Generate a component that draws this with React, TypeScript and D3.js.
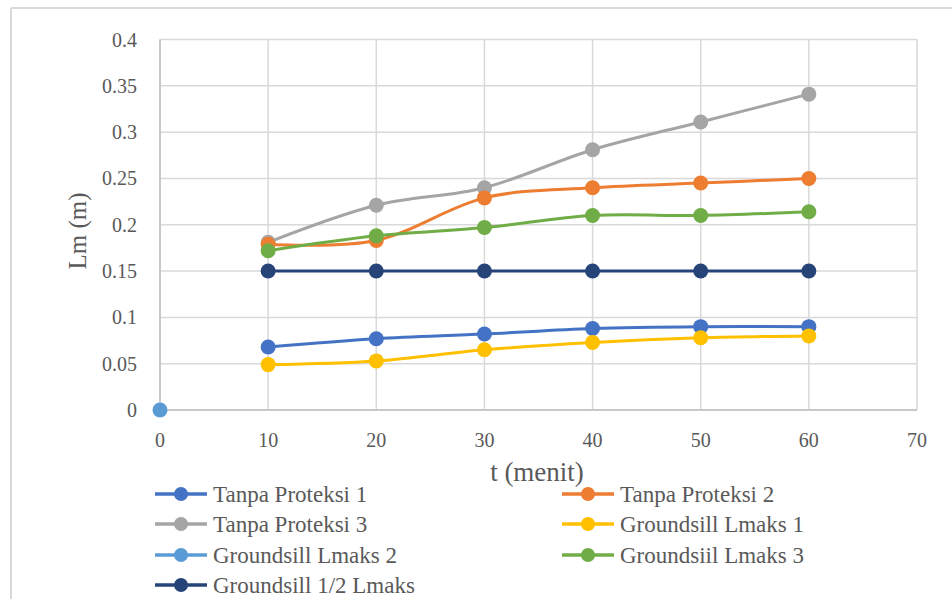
import React from "react";
import * as d3 from "d3";

const times = [10, 20, 30, 40, 50, 60];
const tanpa1 = [0.068, 0.077, 0.082, 0.088, 0.09, 0.09];
const tanpa2 = [0.179, 0.183, 0.229, 0.24, 0.245, 0.25];
const tanpa3 = [0.181, 0.221, 0.24, 0.281, 0.311, 0.341];
const gsL1 = [0.049, 0.053, 0.065, 0.073, 0.078, 0.08];
const gsL2x = [0];
const gsL2 = [0];
const gsL3 = [0.172, 0.188, 0.197, 0.21, 0.21, 0.214];
const gsHalf = [0.15, 0.15, 0.15, 0.15, 0.15, 0.15];

const xTicks = [0, 10, 20, 30, 40, 50, 60, 70];
const yTicks = [0, 0.05, 0.1, 0.15, 0.2, 0.25, 0.3, 0.35, 0.4];

const series = [
  { name: "Tanpa Proteksi 1", xs: times, ys: tanpa1, color: "#4472C4" },
  { name: "Tanpa Proteksi 2", xs: times, ys: tanpa2, color: "#ED7D31" },
  { name: "Tanpa Proteksi 3", xs: times, ys: tanpa3, color: "#A5A5A5" },
  { name: "Groundsill Lmaks 1", xs: times, ys: gsL1, color: "#FFC000" },
  { name: "Groundsill Lmaks 2", xs: gsL2x, ys: gsL2, color: "#5B9BD5" },
  { name: "Groundsiil Lmaks 3", xs: times, ys: gsL3, color: "#70AD47" },
  { name: "Groundsill 1/2 Lmaks", xs: times, ys: gsHalf, color: "#264478" },
];

const drawOrder = [6, 0, 3, 2, 1, 5, 4];

export default function App() {
  const W = 952, H = 599;
  const x = d3.scaleLinear().domain([0, 70]).range([160, 917]);
  const y = d3.scaleLinear().domain([0, 0.4]).range([410, 39.5]);
  const line = d3
    .line<[number, number]>()
    .x((d) => x(d[0]))
    .y((d) => y(d[1]))
    .curve(d3.curveCatmullRom.alpha(0));
  const font = "Liberation Serif, Tinos, Times New Roman, DejaVu Serif, serif";
  const textColor = "#595959";
  const fmt = (v: number) => (v === 0 ? "0" : String(+v.toFixed(2)));

  return (
    <svg
      width={W}
      height={H}
      style={{ position: "fixed", left: 0, top: 0, background: "#fff", fontFamily: font }}
    >
      <rect x={0} y={0} width={W} height={H} fill="#fff" />
      {/* outer border */}
      <line x1={11} y1={8} x2={W} y2={8} stroke="#d9d9d9" strokeWidth={2} />
      <line x1={11} y1={8} x2={11} y2={H} stroke="#d9d9d9" strokeWidth={2} />

      {/* gridlines */}
      {yTicks.map((t) => (
        <line key={"gy" + t} x1={x(0)} x2={x(70)} y1={y(t)} y2={y(t)} stroke="#d9d9d9" strokeWidth={1.5} />
      ))}
      {xTicks.map((t) => (
        <line key={"gx" + t} x1={x(t)} x2={x(t)} y1={y(0)} y2={y(0.4)} stroke="#d9d9d9" strokeWidth={1.5} />
      ))}
      <line x1={x(0)} x2={x(70)} y1={y(0)} y2={y(0)} stroke="#bfbfbf" strokeWidth={1.5} />
      <line x1={x(0)} x2={x(0)} y1={y(0)} y2={y(0.4)} stroke="#bfbfbf" strokeWidth={1.5} />

      {/* tick labels */}
      {yTicks.map((t) => (
        <text key={"ty" + t} x={137} y={y(t)} dy="0.35em" textAnchor="end" fontSize={20} fill={textColor}>
          {fmt(t)}
        </text>
      ))}
      {xTicks.map((t) => (
        <text key={"tx" + t} x={x(t)} y={440} dy="0.35em" textAnchor="middle" fontSize={20} fill={textColor}>
          {t}
        </text>
      ))}

      {/* axis titles */}
      <text
        transform={`translate(86,231) rotate(-90)`}
        textAnchor="middle"
        fontSize={25}
        fill={textColor}
      >
        Lm (m)
      </text>
      <text x={537} y={472} dy="0.35em" textAnchor="middle" fontSize={27} fill={textColor}>
        t (menit)
      </text>

      {/* series */}
      {drawOrder.map((i) => {
        const s = series[i];
        const pts: [number, number][] = s.xs.map((xv, j) => [xv, s.ys[j]]);
        return (
          <g key={s.name}>
            {pts.length > 1 && (
              <path d={line(pts) || ""} fill="none" stroke={s.color} strokeWidth={3} strokeLinejoin="round" />
            )}
            {pts.map((p, j) => (
              <circle key={j} cx={x(p[0])} cy={y(p[1])} r={7.5} fill={s.color} />
            ))}
          </g>
        );
      })}

      {/* legend */}
      {series.map((s, i) => {
        const col = i % 2;
        const row = Math.floor(i / 2);
        const lx = col === 0 ? 155 : 562;
        const ly = [494, 524, 555, 585][row];
        return (
          <g key={"lg" + s.name}>
            <line x1={lx} x2={lx + 52} y1={ly} y2={ly} stroke={s.color} strokeWidth={3.5} />
            <circle cx={lx + 26} cy={ly} r={7} fill={s.color} />
            <text x={lx + 58} y={ly} dy="0.35em" fontSize={23} fill={textColor}>
              {s.name}
            </text>
          </g>
        );
      })}
    </svg>
  );
}
